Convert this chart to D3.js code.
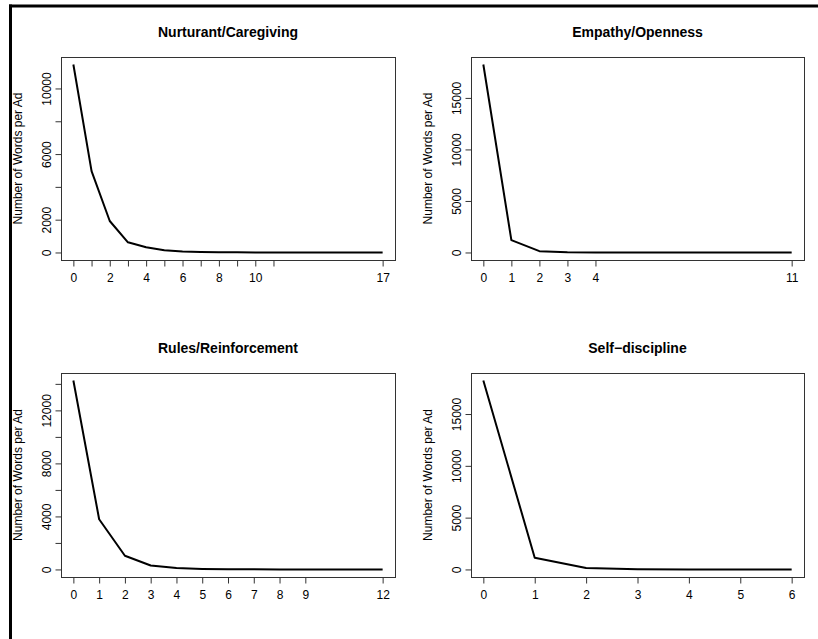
<!DOCTYPE html>
<html>
<head>
<meta charset="utf-8">
<script src="https://cdn.jsdelivr.net/npm/d3@7"></script>
<style>
  html, body { margin: 0; padding: 0; background: #fff; }
  svg { display: block; font-family: "Liberation Sans", Arial, Helvetica, sans-serif; }
</style>
</head>
<body>
<svg id="chart" width="818" height="639"></svg>
<script>
// Word counts per ad, by number of category words, for four parenting frames.
const panelTitles = ["Nurturant/Caregiving", "Empathy/Openness", "Rules/Reinforcement", "Self\u2212discipline"];

const nurturantX = [0, 1, 2, 3, 4, 5, 6, 7, 8, 9, 10, 11, 17];
const nurturantY = [11460, 4960, 1920, 620, 320, 140, 60, 35, 20, 12, 6, 3, 1];
const nurturantYTicks = [0, 2000, 4000, 6000, 8000, 10000];
const nurturantYLabels = ["0", "2000", "", "6000", "", "10000"];
const nurturantXLabels = ["0", "", "2", "", "4", "", "6", "", "8", "", "10", "", "17"];

const empathyX = [0, 1, 2, 3, 4, 11];
const empathyY = [18240, 1200, 130, 30, 10, 1];
const empathyYTicks = [0, 5000, 10000, 15000];
const empathyYLabels = ["0", "5000", "10000", "15000"];
const empathyXLabels = ["0", "1", "2", "3", "4", "11"];

const rulesX = [0, 1, 2, 3, 4, 5, 6, 7, 8, 9, 12];
const rulesY = [14250, 3790, 1030, 300, 100, 40, 20, 10, 5, 3, 1];
const rulesYTicks = [0, 2000, 4000, 6000, 8000, 10000, 12000, 14000];
const rulesYLabels = ["0", "", "4000", "", "8000", "", "12000", ""];
const rulesXLabels = ["0", "1", "2", "3", "4", "5", "6", "7", "8", "9", "12"];

const selfX = [0, 1, 2, 3, 4, 5, 6];
const selfY = [18230, 1130, 130, 20, 5, 2, 1];
const selfYTicks = [0, 5000, 10000, 15000];
const selfYLabels = ["0", "5000", "10000", "15000"];
const selfXLabels = ["0", "1", "2", "3", "4", "5", "6"];

const yTitle = "Number of Words per Ad";

const panels = [
  { title: panelTitles[0], xs: nurturantX, ys: nurturantY, yTicks: nurturantYTicks, yLabels: nurturantYLabels, xLabels: nurturantXLabels },
  { title: panelTitles[1], xs: empathyX, ys: empathyY, yTicks: empathyYTicks, yLabels: empathyYLabels, xLabels: empathyXLabels },
  { title: panelTitles[2], xs: rulesX, ys: rulesY, yTicks: rulesYTicks, yLabels: rulesYLabels, xLabels: rulesXLabels },
  { title: panelTitles[3], xs: selfX, ys: selfY, yTicks: selfYTicks, yLabels: selfYLabels, xLabels: selfXLabels }
];

const svg = d3.select("#chart");

// outer frame (left and top edges)
svg.append("line").attr("x1", 10.5).attr("x2", 10.5).attr("y1", 4.5).attr("y2", 639)
  .attr("stroke", "#000").attr("stroke-width", 3);
svg.append("line").attr("x1", 9).attr("x2", 818).attr("y1", 6).attr("y2", 6)
  .attr("stroke", "#000").attr("stroke-width", 3);

// plot box for each panel: [left, right, top, bottom]
const boxes = [
  [61, 395, 57, 260],
  [471, 804, 57, 260],
  [61, 395, 373, 577],
  [471, 804, 373, 577]
];

// R-style 4% padding around data range
function padded(ext) {
  const d = (ext[1] - ext[0]) * 0.04;
  return [ext[0] - d, ext[1] + d];
}

panels.forEach((p, i) => {
  const [L, R, T, B] = boxes[i];
  const g = svg.append("g");
  const x = d3.scaleLinear().domain(padded(d3.extent(p.xs))).range([L, R]);
  const y = d3.scaleLinear().domain(padded([0, d3.max(p.ys)])).range([B, T]);

  // plot box
  g.append("rect").attr("x", L + 0.5).attr("y", T + 0.5)
    .attr("width", R - L).attr("height", B - T)
    .attr("fill", "none").attr("stroke", "#333").attr("stroke-width", 1);

  // title
  g.append("text").attr("x", (L + R) / 2).attr("y", T - 20)
    .attr("text-anchor", "middle").attr("font-weight", "bold").attr("font-size", 14)
    .text(p.title);

  // x axis
  const xAxis = d3.axisBottom(x).tickValues(p.xs).tickSize(6).tickPadding(7)
    .tickFormat((d, k) => p.xLabels[k]);
  const gx = g.append("g").attr("transform", `translate(0,${B + 0.5})`).call(xAxis);
  gx.select(".domain").attr("d", `M${x(p.xs[0])},0H${x(p.xs[p.xs.length - 1])}`).attr("stroke", "#333");
  gx.selectAll(".tick line").attr("stroke", "#333");
  gx.selectAll(".tick text").attr("font-size", 12).attr("fill", "#000")
    .attr("font-family", "Liberation Sans, Arial, sans-serif");

  // y axis with vertical tick labels
  const yAxis = d3.axisLeft(y).tickValues(p.yTicks).tickSize(6)
    .tickFormat((d, k) => p.yLabels[k]);
  const gy = g.append("g").attr("transform", `translate(${L + 0.5},0)`).call(yAxis);
  gy.select(".domain").attr("d", `M0,${y(p.yTicks[0])}V${y(p.yTicks[p.yTicks.length - 1])}`).attr("stroke", "#333");
  gy.selectAll(".tick line").attr("stroke", "#333");
  gy.selectAll(".tick text")
    .attr("font-size", 12).attr("fill", "#000")
    .attr("font-family", "Liberation Sans, Arial, sans-serif")
    .attr("x", null).attr("dy", null)
    .attr("text-anchor", "middle")
    .attr("transform", "translate(-11,0) rotate(-90)");

  // y axis title
  g.append("text")
    .attr("transform", `translate(${L - 39},${(T + B) / 2}) rotate(-90)`)
    .attr("text-anchor", "middle").attr("font-size", 12)
    .text(yTitle);

  // data line
  const line = d3.line().x((d, k) => x(p.xs[k])).y(d => y(d));
  g.append("path").datum(p.ys).attr("d", line)
    .attr("fill", "none").attr("stroke", "#000").attr("stroke-width", 2)
    .attr("stroke-linejoin", "round");
});
</script>
</body>
</html>
